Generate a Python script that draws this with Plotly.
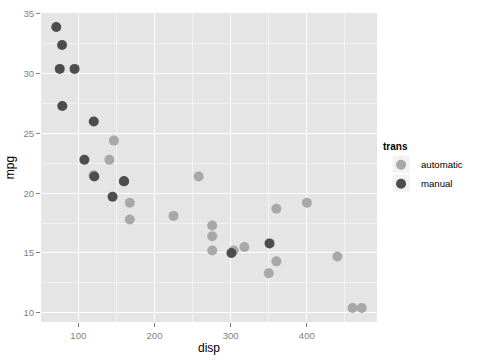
import plotly.graph_objects as go

# mtcars: displacement, mpg, transmission
disp = [160, 160, 108, 258, 360, 225, 360, 146.7, 140.8, 167.6, 167.6, 275.8, 275.8, 275.8,
        472, 460, 440, 78.7, 75.7, 71.1, 120.1, 318, 304, 350, 400, 79, 120.3, 95.1, 351, 145, 301, 121]
mpg = [21.0, 21.0, 22.8, 21.4, 18.7, 18.1, 14.3, 24.4, 22.8, 19.2, 17.8, 16.4, 17.3, 15.2,
       10.4, 10.4, 14.7, 32.4, 30.4, 33.9, 21.5, 15.5, 15.2, 13.3, 19.2, 27.3, 26.0, 30.4, 15.8, 19.7, 15.0, 21.4]
trans = ["manual", "manual", "manual", "automatic", "automatic", "automatic", "automatic", "automatic",
         "automatic", "automatic", "automatic", "automatic", "automatic", "automatic", "automatic",
         "automatic", "automatic", "manual", "manual", "manual", "automatic", "automatic", "automatic",
         "automatic", "automatic", "manual", "manual", "manual", "manual", "manual", "manual", "manual"]

levels = ["automatic", "manual"]
colors = {"automatic": "#A8A8A8", "manual": "#4D4D4D"}

x_ticks = [100, 200, 300, 400]
y_ticks = [10, 15, 20, 25, 30, 35]

fig = go.Figure()
for lv in levels:
    xs = [d for d, t in zip(disp, trans) if t == lv]
    ys = [m for m, t in zip(mpg, trans) if t == lv]
    fig.add_trace(go.Scatter(x=xs, y=ys, mode="markers", name=lv,
                             marker=dict(color=colors[lv], size=10, line=dict(width=0))))

xr = [min(disp), max(disp)]
yr = [min(mpg), max(mpg)]
xpad = (xr[1] - xr[0]) * 0.05
ypad = (yr[1] - yr[0]) * 0.05

axis_common = dict(
    showgrid=True, gridcolor="#FFFFFF", gridwidth=1.2,
    minor=dict(showgrid=True, gridcolor="#F2F2F2", gridwidth=0.6),
    ticks="outside", ticklen=4, tickcolor="#7F7F7F", tickwidth=1,
    tickfont=dict(family="Liberation Sans", size=9.6, color="#7F7F7F"),
    zeroline=False, showline=False, automargin=False,
)

# legend key background boxes (ggplot style), in paper coordinates
PW, PH, ML, MB = 336, 309, 41, 38
def px_to_paper_x(px):
    return (px - ML) / PW
def py_to_paper_y(py):
    return (360 - MB - py) / PH

key_shapes = []
for cy in (164, 183):
    key_shapes.append(dict(type="rect", xref="paper", yref="paper",
                           x0=px_to_paper_x(392.5), x1=px_to_paper_x(409.5),
                           y0=py_to_paper_y(cy + 8.5), y1=py_to_paper_y(cy - 8.5),
                           fillcolor="#F2F2F2", line=dict(width=0), layer="below"))

fig.update_layout(
    width=480, height=360,
    margin=dict(l=ML, r=103, t=13, b=MB, autoexpand=False),
    paper_bgcolor="#FFFFFF", plot_bgcolor="#E5E5E5",
    font=dict(family="Liberation Sans", color="#000000"),
    xaxis=dict(range=[xr[0] - xpad, xr[1] + xpad], tickvals=x_ticks,
               title=dict(text="disp", font=dict(size=12), standoff=4), **axis_common),
    yaxis=dict(range=[yr[0] - ypad, yr[1] + ypad], tickvals=y_ticks,
               title=dict(text="mpg", font=dict(size=12), standoff=6), **axis_common),
    legend=dict(title=dict(text="<b>trans</b>", font=dict(size=10)),
                font=dict(size=9.6), x=1.012, xanchor="left", y=0.598, yanchor="top",
                bgcolor="rgba(0,0,0,0)", itemwidth=30, tracegroupgap=0),
    showlegend=True,
    shapes=key_shapes,
)
fig.update_xaxes(minor=dict(tick0=50, dtick=100))
fig.update_yaxes(minor=dict(tick0=12.5, dtick=5))

fig.write_html("out.html")
